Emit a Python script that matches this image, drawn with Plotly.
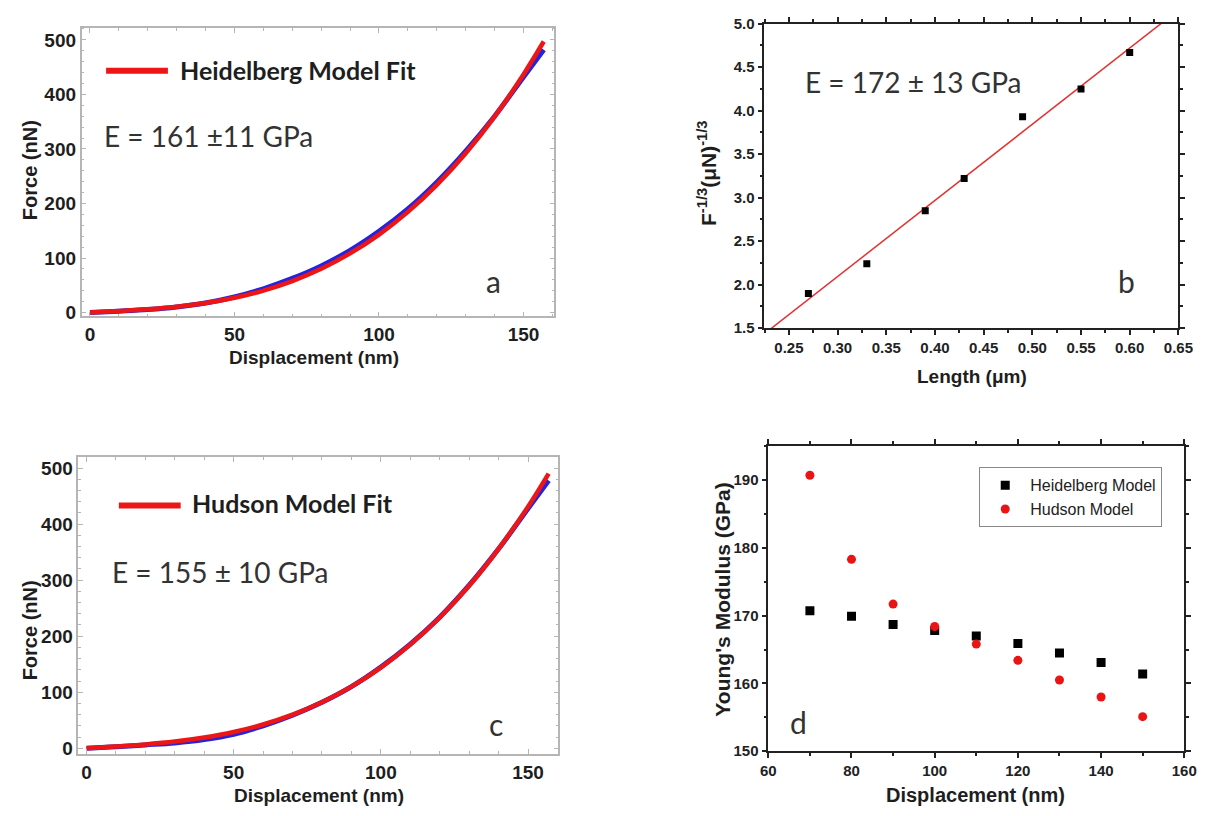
import numpy as np
import plotly.graph_objects as go

W, H = 1213, 816

# ---------------- data ----------------
# Panel a: Force vs displacement, Heidelberg model
disp_a = [0, 10, 20, 30, 40, 50, 60, 70, 80, 90, 100, 110, 120, 130, 140, 150, 157]
force_a_data = [0, 2.5, 5.5, 10.2, 17.6, 28.5, 43.5, 62.5, 85.5, 114, 149, 190, 239, 296, 360, 432, 482]
force_a_fit = [0, 2.6, 5.8, 10.5, 17.3, 27.0, 40.2, 57.7, 80.2, 108.4, 143, 184.6, 234.1, 292.2, 359.4, 436.7, 497]

# Panel b: F^-1/3 vs length
length_b = [0.27, 0.33, 0.39, 0.43, 0.49, 0.55, 0.60]
finv_b = [1.90, 2.24, 2.85, 3.22, 3.93, 4.25, 4.67]

# Panel c: Force vs displacement, Hudson model
disp_c = [0, 10, 20, 30, 40, 50, 60, 70, 80, 90, 100, 110, 120, 130, 140, 150, 157]
force_c_data = [0, 2.8, 6.0, 9.5, 15.5, 25.0, 40.0, 59.0, 82.0, 110, 145, 186, 234, 291, 356, 428, 478]
force_c_fit = [0, 3.0, 6.8, 11.9, 19.1, 29.0, 42.4, 59.9, 82.2, 110, 144, 185, 233.4, 290, 356, 431, 490]

# Panel d: Young's modulus vs displacement
disp_d = [70, 80, 90, 100, 110, 120, 130, 140, 150]
E_heidelberg = [170.7, 169.9, 168.7, 167.8, 167.0, 165.9, 164.5, 163.1, 161.4]
E_hudson = [190.7, 178.3, 171.7, 168.4, 165.8, 163.4, 160.5, 158.0, 155.1]

# ---------------- helpers ----------------
def px(x):
    return x / W

def py(y):
    return 1 - y / H

RED = "rgb(236,22,22)"
BLUE = "rgb(35,35,225)"
TXT = "#1e1e1e"
ARIAL = "Liberation Sans, Arial"
TICKFONT = dict(family=ARIAL, size=19, color=TXT, weight="bold")
TICKFONT2 = dict(family=ARIAL, size=15, color="#222", weight="bold")
GRAYF = "#b5b5b5"

fig = go.Figure()

# panel a
fig.add_trace(go.Scatter(x=disp_a, y=force_a_data, mode="lines", line=dict(color=BLUE, width=5, shape="spline"),
                         xaxis="x", yaxis="y", showlegend=False))
fig.add_trace(go.Scatter(x=disp_a, y=force_a_fit, mode="lines", line=dict(color=RED, width=4.5, shape="spline"),
                         xaxis="x", yaxis="y", showlegend=False))

# panel b
slope, intercept = np.polyfit(length_b, finv_b, 1)
xl = np.array([0.2, 0.7])
fig.add_trace(go.Scatter(x=xl, y=slope * xl + intercept, mode="lines", line=dict(color="rgb(225,50,50)", width=1.5),
                         xaxis="x2", yaxis="y2", showlegend=False))
fig.add_trace(go.Scatter(x=length_b, y=finv_b, mode="markers", marker=dict(symbol="square", size=7, color="black"),
                         xaxis="x2", yaxis="y2", showlegend=False))

# panel c
fig.add_trace(go.Scatter(x=disp_c, y=force_c_data, mode="lines", line=dict(color=BLUE, width=5, shape="spline"),
                         xaxis="x3", yaxis="y3", showlegend=False))
fig.add_trace(go.Scatter(x=disp_c, y=force_c_fit, mode="lines", line=dict(color=RED, width=4.5, shape="spline"),
                         xaxis="x3", yaxis="y3", showlegend=False))

# panel d
fig.add_trace(go.Scatter(x=disp_d, y=E_heidelberg, mode="markers", name="Heidelberg Model",
                         marker=dict(symbol="square", size=9, color="black"), xaxis="x4", yaxis="y4"))
fig.add_trace(go.Scatter(x=disp_d, y=E_hudson, mode="markers", name="Hudson Model",
                         marker=dict(symbol="circle", size=9, color="rgb(235,20,20)"), xaxis="x4", yaxis="y4"))

def math_axis(domain, rng, tickvals, minor_dtick):
    return dict(domain=domain, range=rng, tickvals=tickvals, ticks="inside", ticklen=5, tickwidth=1,
                tickcolor=GRAYF, showline=True, linecolor=GRAYF, linewidth=1.5, mirror="ticks",
                showgrid=False, zeroline=False, tickfont=TICKFONT,
                minor=dict(dtick=minor_dtick, ticks="inside", ticklen=3, tickcolor=GRAYF))

def origin_axis(domain, rng, dtick, minor_dtick, fmt):
    return dict(domain=domain, range=rng, dtick=dtick, tick0=0, tickformat=fmt, ticks="outside", ticklen=5,
                tickwidth=1.5, tickcolor="#222", showline=True, linecolor="#222", linewidth=1.5, mirror="ticks",
                showgrid=False, zeroline=False, tickfont=TICKFONT2,
                minor=dict(dtick=minor_dtick, ticks="outside", ticklen=3, tickcolor="#222"))

layout = dict(
    width=W, height=H, margin=dict(l=0, r=0, t=0, b=0),
    paper_bgcolor="white", plot_bgcolor="white",
    xaxis=math_axis([px(75), px(557)], [-2.9, 160.7], [0, 50, 100, 150], 10),
    yaxis=math_axis([py(314), py(19.3)], [-7.2, 522], [0, 100, 200, 300, 400, 500], 20),
    xaxis2=origin_axis([px(771), px(1193)], [0.2248, 0.65], 0.05, 0.025, ".2f"),
    yaxis2=origin_axis([py(326), py(15)], [1.5, 5.0], 0.5, 0.25, ".1f"),
    xaxis3=math_axis([px(71.7), px(561)], [-2.77, 160.3], [0, 50, 100, 150], 10),
    yaxis3=math_axis([py(761), py(458)], [-10.5, 519], [0, 100, 200, 300, 400, 500], 20),
    xaxis4=origin_axis([px(775), px(1199)], [60, 160], 20, 10, "d"),
    yaxis4=origin_axis([py(758), py(446.4)], [150, 195], 10, 5, "d"),
    legend=dict(x=px(990), y=py(468), xanchor="left", yanchor="top", bordercolor="#888", borderwidth=1,
                bgcolor="white", font=dict(family=ARIAL, size=16, color="#222"),
                tracegroupgap=0, itemwidth=40),
)
layout["xaxis"]["anchor"] = "y"; layout["yaxis"]["anchor"] = "x"
layout["xaxis2"]["anchor"] = "y2"; layout["yaxis2"]["anchor"] = "x2"
layout["xaxis3"]["anchor"] = "y3"; layout["yaxis3"]["anchor"] = "x3"
layout["xaxis4"]["anchor"] = "y4"; layout["yaxis4"]["anchor"] = "x4"
fig.update_layout(**layout)

ann = []
def A(text, x, y, size, bold=False, family="Lato", xanchor="center", angle=0, color=TXT):
    ann.append(dict(text=text, x=px(x), y=py(y), xref="paper", yref="paper", showarrow=False,
                    xanchor=xanchor, yanchor="middle", textangle=angle,
                    font=dict(family=family, size=size, color=color, weight="bold" if bold else "normal")))

# axis titles
A("Displacement (nm)", 312, 356, 19, True, ARIAL)
A("Force (nN)", 22, 165, 20, True, ARIAL, angle=-90)
A("Displacement (nm)", 317, 803, 19, True, ARIAL)
A("Force (nN)", 22, 635, 20, True, ARIAL, angle=-90)
A("Length (μm)", 983, 375, 19, True, ARIAL)
A("F<sup>-1/3</sup>(μN)<sup>-1/3</sup>", 713, 168, 21, True, ARIAL, angle=-90)
A("Displacement (nm)", 986, 803, 20, True, ARIAL)
A("Young's Modulus (GPa)", 728, 603, 21, True, ARIAL, angle=-90)

# in-plot texts
A("Heidelberg Model Fit", 173, 62, 25, True, xanchor="left")
A("E = 161 ±11 GPa", 96, 130, 28, xanchor="left", color="#333")
A("a", 495, 278, 30, color="#333")
A("E = 172 ± 13 GPa", 810, 75, 28, xanchor="left", color="#333")
A("b", 1140, 278, 30, color="#333")
A("Hudson Model Fit", 186, 505, 25, True, xanchor="left")
A("E = 155 ± 10 GPa", 104, 575, 28, xanchor="left", color="#333")
A("c", 497, 730, 30, color="#333")
A("d", 806, 728, 30, color="#333")
fig.update_layout(annotations=ann)

# legend swatches for panels a and c
fig.add_shape(type="line", xref="paper", yref="paper", x0=px(100), x1=px(163), y0=py(63), y1=py(63),
              line=dict(color=RED, width=6))
fig.add_shape(type="line", xref="paper", yref="paper", x0=px(113), x1=px(176), y0=py(507), y1=py(507),
              line=dict(color=RED, width=6))

fig.write_html("out.html")
